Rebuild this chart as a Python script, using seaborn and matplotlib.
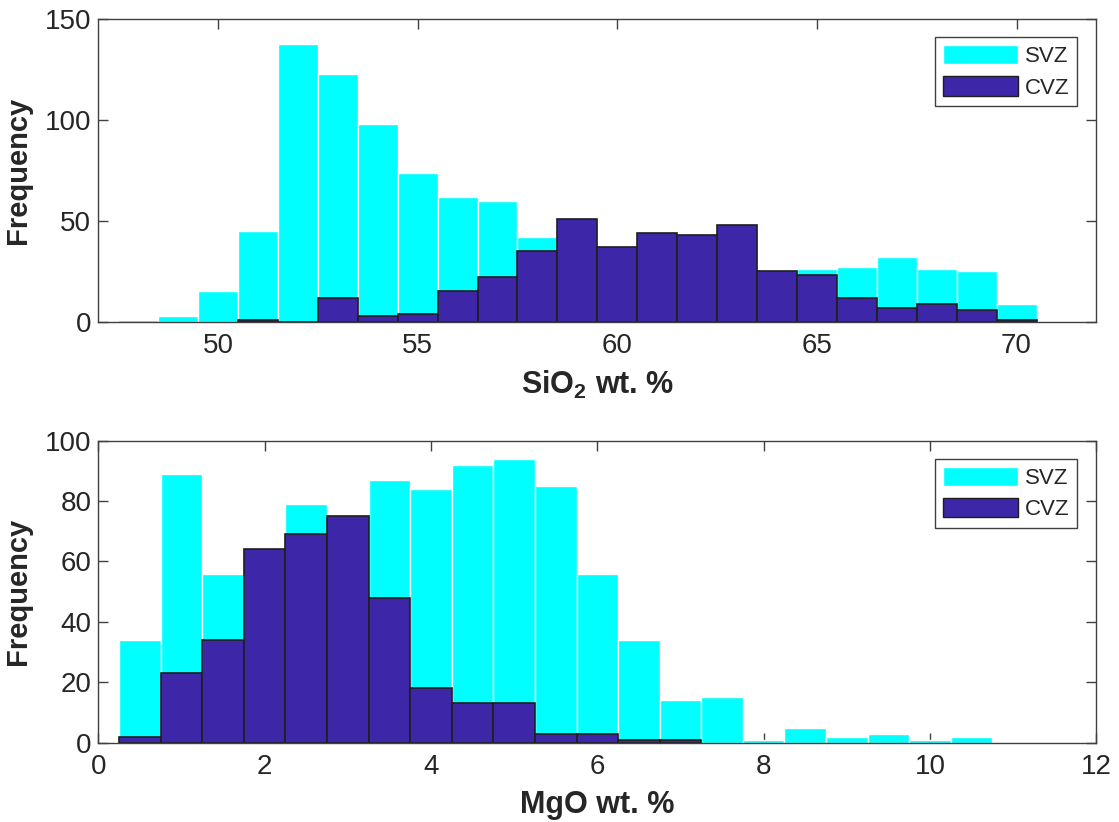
import numpy as np
import pandas as pd
import matplotlib
matplotlib.use('Agg')
import matplotlib.pyplot as plt
from matplotlib.patches import Patch
import seaborn as sns

# SiO2 histogram (bin centres, width 1)
sio2_svz_bins = [48, 49, 50, 51, 52, 53, 54, 55, 56, 57, 58, 59, 60, 61, 62, 63, 64, 65, 66, 67, 68, 69, 70]
sio2_svz = [1, 3, 15, 45, 138, 123, 98, 74, 62, 60, 42, 40, 35, 33, 30, 28, 24, 26, 27, 32, 26, 25, 9]
sio2_cvz_bins = [51, 52, 53, 54, 55, 56, 57, 58, 59, 60, 61, 62, 63, 64, 65, 66, 67, 68, 69, 70]
sio2_cvz = [1, 0, 12, 3, 4, 15, 22, 35, 51, 37, 44, 43, 48, 25, 23, 12, 7, 9, 6, 1]

# MgO histogram (bin centres, width 0.5)
mgo_svz_bins = [0.5, 1.0, 1.5, 2.0, 2.5, 3.0, 3.5, 4.0, 4.5, 5.0, 5.5, 6.0, 6.5, 7.0,
                7.5, 8.0, 8.5, 9.0, 9.5, 10.0, 10.5]
mgo_svz = [34, 89, 56, 62, 79, 72, 87, 84, 92, 94, 85, 56, 34, 14, 15, 1, 5, 2, 3, 1, 2]
mgo_cvz_bins = [0.5, 1.0, 1.5, 2.0, 2.5, 3.0, 3.5, 4.0, 4.5, 5.0, 5.5, 6.0, 6.5, 7.0]
mgo_cvz = [2, 23, 34, 64, 69, 75, 48, 18, 13, 13, 3, 3, 1, 1]

SVZ_COLOR = '#00FFFF'
CVZ_COLOR = '#3E26A8'
TXT = '#262626'

sns.set_style('ticks')
plt.rcParams['font.family'] = ['Liberation Sans', 'DejaVu Sans']
plt.rcParams['mathtext.fontset'] = 'custom'
plt.rcParams['mathtext.rm'] = 'Liberation Sans'
plt.rcParams['mathtext.bf'] = 'Liberation Sans:bold'

fig = plt.figure(figsize=(11.19, 8.22), dpi=100)
ax1 = fig.add_axes([0.0878, 0.6086, 0.892, 0.3679])
ax2 = fig.add_axes([0.0878, 0.0965, 0.892, 0.3674])


def draw_hist(ax, svz_bins, svz, cvz_bins, cvz, width):
    svz_df = pd.DataFrame({'x': svz_bins, 'n': svz})
    cvz_df = pd.DataFrame({'x': cvz_bins, 'n': cvz})
    for df, col, ec, lw in [(svz_df, SVZ_COLOR, 'white', 1.0),
                            (cvz_df, CVZ_COLOR, '#1e1e1e', 1.2)]:
        lo = df['x'].min() - width / 2
        hi = df['x'].max() + width / 2
        sns.histplot(data=df, x='x', weights='n', binwidth=width, binrange=(lo, hi),
                     color=col, edgecolor=ec, linewidth=lw, alpha=1, ax=ax)


def style_axes(ax, xlim, ylim, yticks, xticks, xlabel):
    ax.set_xlim(*xlim)
    ax.set_ylim(*ylim)
    ax.set_yticks(yticks)
    ax.set_xticks(xticks)
    ax.tick_params(direction='in', length=7, width=1, top=True, right=True,
                   labelsize=20, labelcolor=TXT, color='#404040')
    ax.tick_params(axis='x', pad=8)
    ax.tick_params(axis='y', pad=5)
    for s in ax.spines.values():
        s.set_visible(True)
        s.set_color('#404040')
        s.set_linewidth(1)
    ax.set_ylabel('Frequency', fontsize=21, fontweight='bold', color=TXT, labelpad=9)
    ax.set_xlabel(xlabel, fontsize=22, fontweight='bold', color=TXT, labelpad=7)
    handles = [Patch(facecolor=SVZ_COLOR, edgecolor='white', label='SVZ'),
               Patch(facecolor=CVZ_COLOR, edgecolor='#1e1e1e', label='CVZ')]
    leg = ax.legend(handles=handles, loc='upper right', bbox_to_anchor=(0.981, 0.94),
                    borderaxespad=0, fontsize=16, fancybox=False, framealpha=1,
                    edgecolor='#404040', handlelength=3.4, handleheight=0.95,
                    handletextpad=0.3, labelspacing=0.4, borderpad=0.35)
    leg.get_frame().set_linewidth(1)
    for t in leg.get_texts():
        t.set_color(TXT)


draw_hist(ax1, sio2_svz_bins, sio2_svz, sio2_cvz_bins, sio2_cvz, 1.0)
style_axes(ax1, (47, 72), (0, 150), [0, 50, 100, 150], [50, 55, 60, 65, 70],
           r'SiO$_\mathbf{2}$ wt. %')

draw_hist(ax2, mgo_svz_bins, mgo_svz, mgo_cvz_bins, mgo_cvz, 0.5)
style_axes(ax2, (0, 12), (0, 100), [0, 20, 40, 60, 80, 100], [0, 2, 4, 6, 8, 10, 12],
           'MgO wt. %')

fig.savefig('out.png', dpi=100)
